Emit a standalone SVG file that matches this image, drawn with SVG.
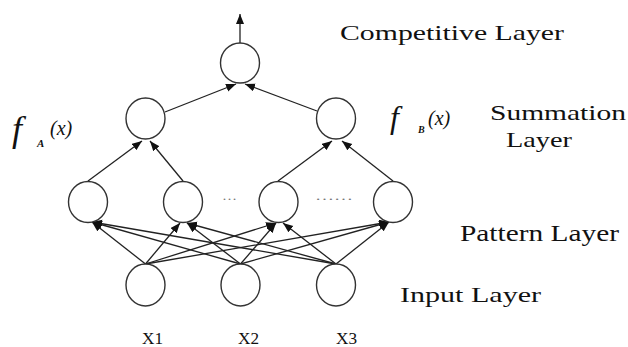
<svg xmlns="http://www.w3.org/2000/svg" width="628" height="347" viewBox="0 0 628 347">
<defs>
<marker id="ah" markerUnits="userSpaceOnUse" markerWidth="11" markerHeight="9" refX="10" refY="4" orient="auto">
<path d="M0,0 L10,4 L0,8 z" fill="#111"/>
</marker>
<style>
.n{fill:#fff;stroke:#333;stroke-width:1.4}
.c line{stroke:#222;stroke-width:1.3;marker-end:url(#ah)}
.t{fill:#111}
.it{font-style:italic;fill:#111}
.d{fill:#777;font-size:12px}
</style>
</defs>
<rect width="628" height="347" fill="#fff"/>
<g id="connectors" class="c">
<line x1="240" y1="43" x2="240" y2="14"/>
<line x1="165" y1="112" x2="236" y2="84"/>
<line x1="317" y1="111" x2="245" y2="84"/>
<line x1="88" y1="181" x2="142" y2="141"/>
<line x1="183" y1="181" x2="150" y2="141"/>
<line x1="278" y1="181" x2="332" y2="141"/>
<line x1="393" y1="181" x2="342" y2="141"/>
<line x1="145.5" y1="264" x2="92" y2="222"/>
<line x1="240.5" y1="264" x2="92" y2="222"/>
<line x1="336" y1="264" x2="92" y2="222"/>
<line x1="145.5" y1="264" x2="180" y2="223"/>
<line x1="240.5" y1="264" x2="187" y2="223"/>
<line x1="336" y1="264" x2="187" y2="223"/>
<line x1="145.5" y1="264" x2="276" y2="223"/>
<line x1="240.5" y1="264" x2="276" y2="223"/>
<line x1="336" y1="264" x2="283" y2="223"/>
<line x1="145.5" y1="264" x2="389" y2="222"/>
<line x1="240.5" y1="264" x2="389" y2="222"/>
<line x1="336" y1="264" x2="389" y2="222"/>
</g>
<g id="competitive"><ellipse class="n" cx="240" cy="63" rx="19.5" ry="20"/></g>
<g id="sumA"><ellipse class="n" cx="145.5" cy="118.5" rx="19.5" ry="20.5"/></g>
<g id="sumB"><ellipse class="n" cx="336" cy="118.5" rx="19.5" ry="20.5"/></g>
<g id="p1"><ellipse class="n" cx="88" cy="202" rx="19.5" ry="20.5"/></g>
<g id="p2"><ellipse class="n" cx="183" cy="202" rx="19.5" ry="20.5"/></g>
<g id="p3"><ellipse class="n" cx="278.5" cy="202" rx="19.5" ry="20.5"/></g>
<g id="p4"><ellipse class="n" cx="393" cy="202" rx="19.5" ry="20.5"/></g>
<g id="in1"><ellipse class="n" cx="145.5" cy="285" rx="19.5" ry="21"/></g>
<g id="in2"><ellipse class="n" cx="240.5" cy="285" rx="19.5" ry="21"/></g>
<g id="in3"><ellipse class="n" cx="336" cy="285" rx="19.5" ry="21"/></g>
<g font-family="'Liberation Serif', 'Times New Roman', 'DejaVu Serif', serif">
<text class="d" x="222" y="200" textLength="15" lengthAdjust="spacingAndGlyphs">…</text>
<text class="d" x="315" y="200" textLength="38" lengthAdjust="spacingAndGlyphs">……</text>
<g id="labels">
<text class="t" x="340" y="40" font-size="22" textLength="224" lengthAdjust="spacingAndGlyphs">Competitive Layer</text>
<text class="t" x="490" y="120" font-size="21" textLength="136" lengthAdjust="spacingAndGlyphs">Summation</text>
<text class="t" x="506" y="147" font-size="21" textLength="66" lengthAdjust="spacingAndGlyphs">Layer</text>
<text class="t" x="460" y="241" font-size="23" textLength="159" lengthAdjust="spacingAndGlyphs">Pattern Layer</text>
<text class="t" x="400" y="302" font-size="22" textLength="141" lengthAdjust="spacingAndGlyphs">Input Layer</text>
<text class="t" x="142" y="344" font-size="17" textLength="21" lengthAdjust="spacingAndGlyphs">X1</text>
<text class="t" x="238" y="344" font-size="17" textLength="21" lengthAdjust="spacingAndGlyphs">X2</text>
<text class="t" x="336" y="344" font-size="17" textLength="21" lengthAdjust="spacingAndGlyphs">X3</text>
<text class="it" x="12" y="141" font-size="36">f</text>
<text class="it" x="37" y="147" font-size="11" font-weight="bold">A</text>
<text class="it" x="50" y="135" font-size="20">(x)</text>
<text class="it" x="390" y="128" font-size="32">f</text>
<text class="it" x="418" y="133" font-size="10" font-weight="bold">B</text>
<text class="it" x="428" y="125" font-size="20">(x)</text>
</g>
</g>
</svg>
